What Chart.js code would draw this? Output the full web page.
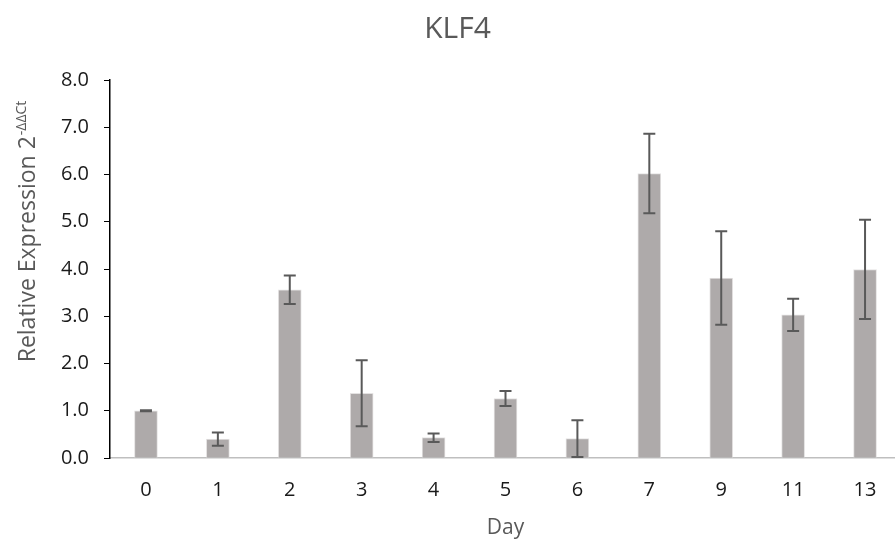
<!DOCTYPE html>
<html>
<head>
<meta charset="utf-8">
<script src="https://cdn.jsdelivr.net/npm/chart.js@4.4.1/dist/chart.umd.min.js"></script>
<style>
  html, body { margin: 0; padding: 0; background: #fff; overflow: hidden; }
  #wrap { width: 915px; height: 541px; }
</style>
</head>
<body>
<div id="wrap"><canvas id="myChart" width="915" height="541"></canvas></div>
<script>
// KLF4 relative expression by day, bars with error bars

const days = ['0', '1', '2', '3', '4', '5', '6', '7', '9', '11', '13'];
const expression = [1.00, 0.40, 3.56, 1.37, 0.43, 1.26, 0.41, 6.02, 3.81, 3.03, 3.99];
const errors = [0.01, 0.14, 0.30, 0.70, 0.09, 0.16, 0.39, 0.84, 0.99, 0.34, 1.05];
const yTicks = [0, 1, 2, 3, 4, 5, 6, 7, 8];

const FONT = "'Open Sans', sans-serif";

// draws the error bars using the chart's own scales
const errorBarPlugin = {
    id: 'errorBars',
    afterDatasetsDraw(chart) {
        const ctx = chart.ctx;
        const meta = chart.getDatasetMeta(0);
        const yScale = chart.scales.y;
        ctx.save();
        ctx.strokeStyle = '#595959';
        ctx.lineWidth = 2;
        meta.data.forEach((bar, i) => {
            const v = expression[i];
            const e = errors[i];
            const yTop = yScale.getPixelForValue(v + e);
            const yBot = yScale.getPixelForValue(v - e);
            const x = bar.x;
            ctx.beginPath();
            ctx.moveTo(x, yTop);
            ctx.lineTo(x, yBot);
            ctx.moveTo(x - 6, yTop);
            ctx.lineTo(x + 6, yTop);
            ctx.moveTo(x - 6, yBot);
            ctx.lineTo(x + 6, yBot);
            ctx.stroke();
        });
        ctx.restore();
    }
};

// chart title and y axis title (with the superscript exponent)
const titlesPlugin = {
    id: 'titles',
    afterDraw(chart) {
        const ctx = chart.ctx;
        const area = chart.chartArea;
        ctx.save();
        ctx.fillStyle = '#595959';
        ctx.textBaseline = 'alphabetic';

        ctx.font = '30px ' + FONT;
        ctx.textAlign = 'center';
        ctx.fillText('KLF4', chart.width / 2, 38);

        const main = 'Relative Expression 2';
        const sup = '-\u0394\u0394Ct';
        ctx.font = '23px ' + FONT;
        const w1 = ctx.measureText(main).width;
        ctx.font = '14px ' + FONT;
        const w2 = ctx.measureText(sup).width;
        const total = w1 + w2;
        const cy = (area.top + area.bottom) / 2 - 37;
        ctx.translate(35, cy);
        ctx.rotate(-Math.PI / 2);
        ctx.textAlign = 'left';
        ctx.font = '23px ' + FONT;
        ctx.fillText(main, -total / 2, 0);
        ctx.font = '14px ' + FONT;
        ctx.fillText(sup, -total / 2 + w1 + 1, -9);
        ctx.restore();
    }
};

const ctx = document.getElementById('myChart').getContext('2d');

new Chart(ctx, {
    type: 'bar',
    data: {
        labels: days,
        datasets: [{
            label: 'KLF4',
            data: expression,
            backgroundColor: '#AEAAAA',
            borderColor: '#E4E2E2',
            borderWidth: 1,
            barThickness: 23
        }]
    },
    options: {
        responsive: false,
        animation: false,
        layout: {
            padding: { top: 80, right: 14, bottom: 0, left: 0 }
        },
        plugins: {
            legend: { display: false },
            tooltip: { enabled: false },
            title: { display: false }
        },
        scales: {
            x: {
                offset: true,
                grid: { display: false, drawTicks: false },
                border: { display: true, color: '#BFBFBF', width: 1.5 },
                ticks: {
                    color: '#1a1a1a',
                    font: { family: FONT, size: 20 },
                    padding: 20,
                    maxRotation: 0
                },
                title: {
                    display: true,
                    text: 'Day',
                    color: '#595959',
                    font: { family: FONT, size: 21 },
                    padding: { top: 4, bottom: 0 }
                },
                afterFit(scale) { scale.height = 83; }
            },
            y: {
                min: 0,
                max: 8,
                afterBuildTicks(scale) {
                    scale.ticks = yTicks.map(v => ({ value: v }));
                },
                grid: {
                    drawOnChartArea: false,
                    drawTicks: true,
                    tickLength: 6,
                    color: '#000'
                },
                border: { display: true, color: '#000', width: 1.5 },
                ticks: {
                    color: '#1a1a1a',
                    font: { family: FONT, size: 20 },
                    padding: 15,
                    callback: v => Number(v).toFixed(1)
                },
                afterFit(scale) { scale.width = 110; }
            }
        }
    },
    plugins: [errorBarPlugin, titlesPlugin]
});
</script>
</body>
</html>
